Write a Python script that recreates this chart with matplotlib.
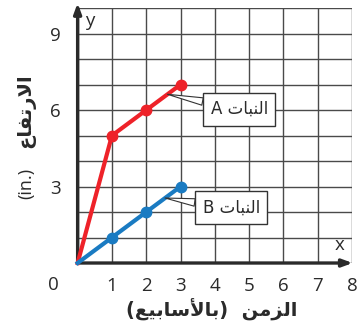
import matplotlib
matplotlib.use("Agg")
import matplotlib.pyplot as plt

# Data
weeks = [0, 1, 2, 3]
plant_a = [0, 5, 6, 7]
plant_b = [0, 1, 2, 3]
x_tick_labels = ["1", "2", "3", "4", "5", "6", "7", "8"]
y_tick_values = [3, 6, 9]

# Arabic text, shaped (presentation forms) in visual order
word_plant = "\uFE95\uFE8E\uFE92\uFEE8\uFEDF\uFE8D"          # النبات
label_a = "A " + word_plant
label_b = "B " + word_plant
word_height = "\uFEC9\uFE8E\uFED4\uFE97\uFEAD\uFEFB\uFE8D"   # الارتفاع
unit_text = "(in.)"
word_time = "\uFEE6\uFEE3\uFEB0\uFEDF\uFE8D"                  # الزمن
word_weeks = "\uFECA\uFEF4\uFE91\uFE8E\uFEB3\uFEF7\uFE8E\uFE91"  # بالأسابيع
xlabel_text = "(" + word_weeks + ")  " + word_time

red = "#ee2229"
blue = "#1a7bc2"
ink = "#2a2a2a"
num_font = ["Open Sans", "DejaVu Sans"]

fig = plt.figure(figsize=(3.58, 3.31), dpi=100)
ax = fig.add_axes([0.2168, 0.2054, 0.7665, 0.770])
ax.set_xlim(0, 8)
ax.set_ylim(0, 10)

# grid
for gx in range(0, 9):
    ax.axvline(gx, color="#4a4a4a", lw=1.0, zorder=1)
for gy in range(0, 11):
    ax.axhline(gy, color="#4a4a4a", lw=1.0, zorder=1)

for s in ax.spines.values():
    s.set_visible(False)

ax.set_xticks(range(1, 9))
ax.set_xticklabels(x_tick_labels, family=num_font)
ax.set_yticks(y_tick_values)
ax.set_yticklabels([str(v) for v in y_tick_values], family=num_font)
ax.tick_params(axis="both", length=0, labelsize=13.5, colors=ink)
ax.tick_params(axis="x", pad=10)
ax.tick_params(axis="y", pad=12)
ax.text(-0.72, -0.85, "0", fontsize=13.5, color=ink, ha="center", va="center",
        family=num_font, transform=ax.transData, clip_on=False)

# axes arrows
ax.annotate("", xy=(8.02, 0), xytext=(0, 0), annotation_clip=False,
            arrowprops=dict(arrowstyle="-|>,head_length=0.6,head_width=0.22", color=ink, lw=2.4,
                            shrinkA=0, shrinkB=0), zorder=4)
ax.annotate("", xy=(0, 10.2), xytext=(0, 0), annotation_clip=False,
            arrowprops=dict(arrowstyle="-|>,head_length=0.6,head_width=0.22", color=ink, lw=2.4,
                            shrinkA=0, shrinkB=0), zorder=4)
ax.text(7.63, 0.72, "x", fontsize=13.5, color=ink, ha="center", va="center", family=num_font)
ax.text(0.35, 9.5, "y", fontsize=13.5, color=ink, ha="center", va="center", family=num_font)

# series
ax.plot(weeks, plant_a, color=red, lw=3.0, marker="o", markersize=7.5, markevery=[1, 2, 3],
        zorder=5, clip_on=False)
ax.plot(weeks, plant_b, color=blue, lw=3.0, marker="o", markersize=7.5, markevery=[1, 2, 3],
        zorder=5, clip_on=False)

# callouts
box = dict(boxstyle="square,pad=0.45", fc="white", ec="#333333", lw=1.0)
ax.annotate(label_a, xy=(2.62, 6.62), xytext=(4.71, 6.04), fontsize=12, family="DejaVu Sans",
            ha="center", va="center", bbox=box, zorder=6, color=ink,
            arrowprops=dict(arrowstyle="wedge,tail_width=0.45,shrink_factor=0.5", fc="white",
                            ec="#333333", lw=0.8, shrinkA=0, shrinkB=0))
ax.annotate(label_b, xy=(2.55, 2.55), xytext=(4.48, 2.16), fontsize=12, family="DejaVu Sans",
            ha="center", va="center", bbox=box, zorder=6, color=ink,
            arrowprops=dict(arrowstyle="wedge,tail_width=0.45,shrink_factor=0.5", fc="white",
                            ec="#333333", lw=0.8, shrinkA=0, shrinkB=0))

# axis labels
fig.text(0.59, 0.063, xlabel_text, fontsize=14, fontweight="bold", family="DejaVu Sans",
         ha="center", va="center", color=ink)
fig.text(0.073, 0.665, word_height, fontsize=14, fontweight="bold", family="DejaVu Sans",
         ha="center", va="center", rotation=90, color=ink)
fig.text(0.073, 0.447, unit_text, fontsize=13, family=num_font,
         ha="center", va="center", rotation=90, color=ink)

fig.savefig("out.png", dpi=100)
